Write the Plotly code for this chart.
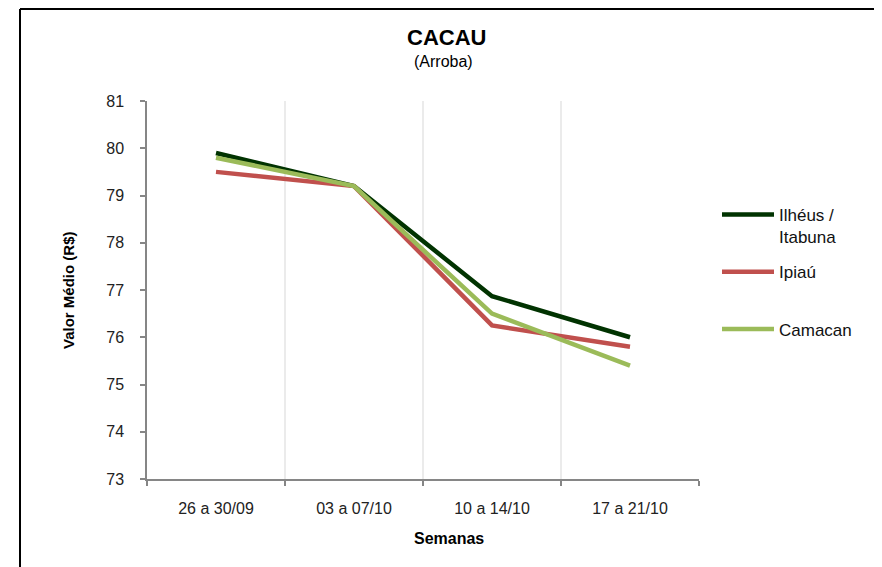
import plotly.graph_objects as go

# --- DATA ---
SEMANAS = ["26 a 30/09", "03 a 07/10", "10 a 14/10", "17 a 21/10"]
ILHEUS = [79.9, 79.2, 76.87, 76.0]
IPIAU = [79.5, 79.2, 76.25, 75.8]
CAMACAN = [79.8, 79.2, 76.5, 75.4]
Y_TICKS = [73, 74, 75, 76, 77, 78, 79, 80, 81]

SERIES = [
    ("Ilhéus /<br>Itabuna", ILHEUS, "#013301"),
    ("Ipiaú<br> ", IPIAU, "#C0504D"),
    ("Camacan", CAMACAN, "#9BBB59"),
]

# page is drawn with an 8px body margin, so the figure is shrunk and all
# pixel positions below are given in screen coordinates minus 8
OFF = 8
W, H = 882 - OFF, 567 - OFF
ML, MT = 147 - OFF, 101 - OFF
PW, PH = 552, 378
MR = W - ML - PW
MB = H - MT - PH


def px_x(p):
    return (p - OFF - ML) / PW


def px_y(p):
    return 1 + (MT - (p - OFF)) / PH


fig = go.Figure()
for i, (name, vals, color) in enumerate(SERIES):
    fig.add_trace(go.Scatter(
        x=SEMANAS, y=vals, name=name, mode="lines",
        legendgroup=f"g{i}",
        line=dict(color=color, width=4.5),
    ))

axis_color = "#868686"
FONT = "Liberation Sans, Arial"
tick_font = dict(family=FONT, size=16, color="#222222")

fig.update_layout(
    width=W, height=H,
    margin=dict(l=ML, r=MR, t=MT, b=MB),
    plot_bgcolor="white", paper_bgcolor="white",
    showlegend=True,
    legend=dict(
        x=px_x(717), y=px_y(197), xanchor="left", yanchor="top",
        font=dict(family=FONT, size=17, color="#111111"),
        valign="top", tracegroupgap=10, itemwidth=52,
        bgcolor="rgba(0,0,0,0)",
    ),
    xaxis=dict(
        type="category", range=[-0.5, 3.5],
        showline=True, linecolor=axis_color, linewidth=1.5,
        ticks="outside", ticklen=5, tickcolor=axis_color, tickwidth=1.5,
        tickson="boundaries",
        showgrid=True, gridcolor="#EBEBEB", gridwidth=1.5,
        tickfont=tick_font, ticklabelstandoff=14,
        zeroline=False,
    ),
    yaxis=dict(
        range=[73, 81], tickvals=Y_TICKS,
        showline=True, linecolor=axis_color, linewidth=1.5,
        ticks="outside", ticklen=5, tickcolor=axis_color, tickwidth=1.5,
        showgrid=False, zeroline=False,
        tickfont=tick_font, ticklabelstandoff=13,
    ),
    annotations=[
        dict(text="<b>CACAU</b>", x=px_x(446), y=px_y(37), xref="paper", yref="paper",
             xanchor="center", yanchor="middle", showarrow=False,
             font=dict(family=FONT, size=22, color="black")),
        dict(text="(Arroba)", x=px_x(444), y=px_y(62), xref="paper", yref="paper",
             xanchor="center", yanchor="middle", showarrow=False,
             font=dict(family=FONT, size=16, color="black")),
        dict(text="<b>Semanas</b>", x=px_x(449), y=px_y(538), xref="paper", yref="paper",
             xanchor="center", yanchor="middle", showarrow=False,
             font=dict(family=FONT, size=16, color="black")),
        dict(text="<b>Valor Médio (R$)</b>", x=px_x(68), y=0.5, xref="paper", yref="paper",
             xanchor="center", yanchor="middle", textangle=-90, showarrow=False,
             font=dict(family=FONT, size=15, color="black")),
    ],
    shapes=[
        dict(type="line", xref="paper", yref="paper",
             x0=px_x(20), x1=px_x(20), y0=px_y(9), y1=px_y(600),
             line=dict(color="black", width=2)),
        dict(type="line", xref="paper", yref="paper",
             x0=px_x(20), x1=px_x(900), y0=px_y(9), y1=px_y(9),
             line=dict(color="black", width=2)),
    ],
)

fig.write_html("out.html")
